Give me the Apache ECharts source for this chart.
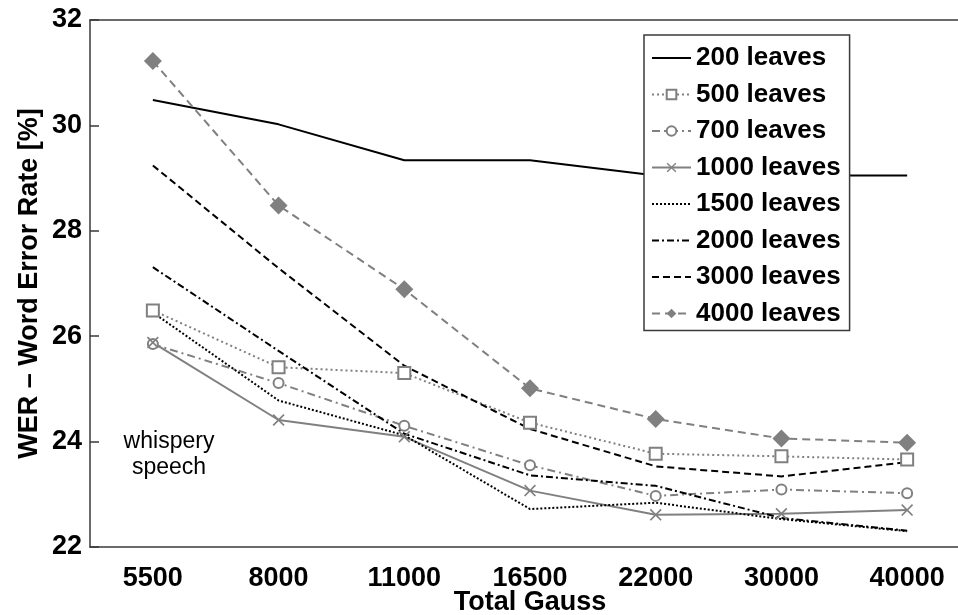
<!DOCTYPE html>
<html>
<head>
<meta charset="utf-8">
<script src="https://cdn.jsdelivr.net/npm/echarts@6/dist/echarts.min.js"></script>
<style>
html,body{margin:0;padding:0;background:#fff;overflow:hidden;}
#chart{width:958px;height:615px;}
</style>
</head>
<body>
<div id="chart"></div>
<script>
const categories = ['5500', '8000', '11000', '16500', '22000', '30000', '40000'];
const leaves200  = [30.48, 30.02, 29.34, 29.34, 29.05, 29.05, 29.05];
const leaves500  = [26.49, 25.41, 25.30, 24.36, 23.77, 23.72, 23.66];
const leaves700  = [25.85, 25.11, 24.30, 23.55, 22.97, 23.09, 23.02];
const leaves1000 = [25.88, 24.41, 24.09, 23.07, 22.61, 22.63, 22.70];
const leaves1500 = [26.45, 24.78, 24.12, 22.72, 22.84, 22.53, 22.30];
const leaves2000 = [27.31, 25.72, 24.15, 23.36, 23.16, 22.55, 22.31];
const leaves3000 = [29.24, 27.29, 25.44, 24.24, 23.53, 23.34, 23.61];
const leaves4000 = [31.22, 28.48, 26.89, 25.01, 24.43, 24.06, 23.98];
const seriesNames = ['200 leaves', '500 leaves', '700 leaves', '1000 leaves', '1500 leaves', '2000 leaves', '3000 leaves', '4000 leaves'];
const yTicks = [22, 24, 26, 28, 30, 32];

const FONT = '"Liberation Sans", Arial, sans-serif';
const GRAY = '#808080';
const AXIS = '#3a3a3a';
const X_PATH = 'path://M0,1L1,0L5,4L9,0L10,1L6,5L10,9L9,10L5,6L1,10L0,9L4,5Z';
const NO_MARK = 'path://M0,0L1,0L1,1L0,1Z';

function mk(name, data, color, type, width, symbol, symbolSize, extra) {
  const s = {
    name: name, type: 'line', data: data,
    symbol: symbol || NO_MARK, symbolSize: symbolSize || 1,
    showSymbol: !!symbol,
    lineStyle: { color: color, width: width, type: type },
    itemStyle: { color: symbol ? color : 'rgba(255,255,255,0)', borderColor: color, borderWidth: symbol ? 2 : 0 },
    emphasis: { disabled: true },
    animation: false
  };
  return Object.assign(s, extra || {});
}

const chart = echarts.init(document.getElementById('chart'), null, { renderer: 'canvas' });
chart.setOption({
  animation: false,
  backgroundColor: '#fff',
  grid: { left: 90, top: 20, width: 880, height: 527, outerBoundsMode: 'none', containLabel: false },
  legend: {
    orient: 'vertical',
    left: 644, top: 35,
    data: seriesNames,
    itemWidth: 39, itemHeight: 12, itemGap: 10.5,
    padding: [10, 9, 4, 7],
    borderColor: AXIS, borderWidth: 1.5,
    backgroundColor: '#fff',
    textStyle: { fontFamily: FONT, fontSize: 26, fontWeight: 'bold', color: '#000', lineHeight: 26 },
    selectedMode: false
  },
  xAxis: [{
    type: 'category', data: categories, position: 'bottom',
    boundaryGap: true,
    name: 'Total Gauss', nameLocation: 'middle', nameGap: 42, nameMoveOverlap: false,
    nameTextStyle: { fontFamily: FONT, fontSize: 27, fontWeight: 'bold', color: '#000', lineHeight: 28 },
    axisLine: { lineStyle: { color: AXIS, width: 1.5 } },
    axisTick: { inside: true, alignWithLabel: true, length: 9, lineStyle: { color: AXIS, width: 1.5 } },
    axisLabel: { fontFamily: FONT, fontSize: 27, fontWeight: 'bold', color: '#000', margin: 18 },
    splitLine: { show: false }
  }, {
    type: 'category', data: categories, position: 'top',
    boundaryGap: true,
    axisLine: { lineStyle: { color: AXIS, width: 1.5 } },
    axisTick: { inside: true, alignWithLabel: true, length: 9, lineStyle: { color: AXIS, width: 1.5 } },
    axisLabel: { show: false },
    splitLine: { show: false }
  }],
  yAxis: {
    type: 'value', min: yTicks[0], max: yTicks[yTicks.length - 1], interval: 2,
    name: 'WER \u2013 Word Error Rate [%]', nameLocation: 'middle', nameGap: 47, nameMoveOverlap: false,
    nameTextStyle: { fontFamily: FONT, fontSize: 27, fontWeight: 'bold', color: '#000' },
    axisLine: { show: true, lineStyle: { color: AXIS, width: 1.5 } },
    axisTick: { show: true, inside: true, length: 9, lineStyle: { color: AXIS, width: 1.5 } },
    axisLabel: { fontFamily: FONT, fontSize: 27, fontWeight: 'bold', color: '#000', margin: 8 },
    splitLine: { show: false }
  },
  graphic: [{
    type: 'text', x: 169, y: 429, z: 10,
    style: { text: 'whispery\nspeech', align: 'center', fontFamily: FONT, fontSize: 23, fill: '#000', lineHeight: 26 }
  }],
  series: [
    mk('200 leaves', leaves200, '#000', 'solid', 2),
    mk('500 leaves', leaves500, GRAY, [2, 3], 2, 'emptyRect', 12),
    mk('700 leaves', leaves700, GRAY, [8, 4, 2, 4], 2, 'emptyCircle', 10),
    mk('1000 leaves', leaves1000, GRAY, 'solid', 2, X_PATH, 12, { itemStyle: { color: GRAY, borderWidth: 0 } }),
    mk('1500 leaves', leaves1500, '#000', [2, 2], 2),
    mk('2000 leaves', leaves2000, '#000', [7, 3, 2, 3], 2),
    mk('3000 leaves', leaves3000, '#000', [7, 4], 2),
    mk('4000 leaves', leaves4000, GRAY, [8, 5], 2, 'diamond', 18, { itemStyle: { color: GRAY, borderWidth: 0 } })
  ]
});
</script>
</body>
</html>
